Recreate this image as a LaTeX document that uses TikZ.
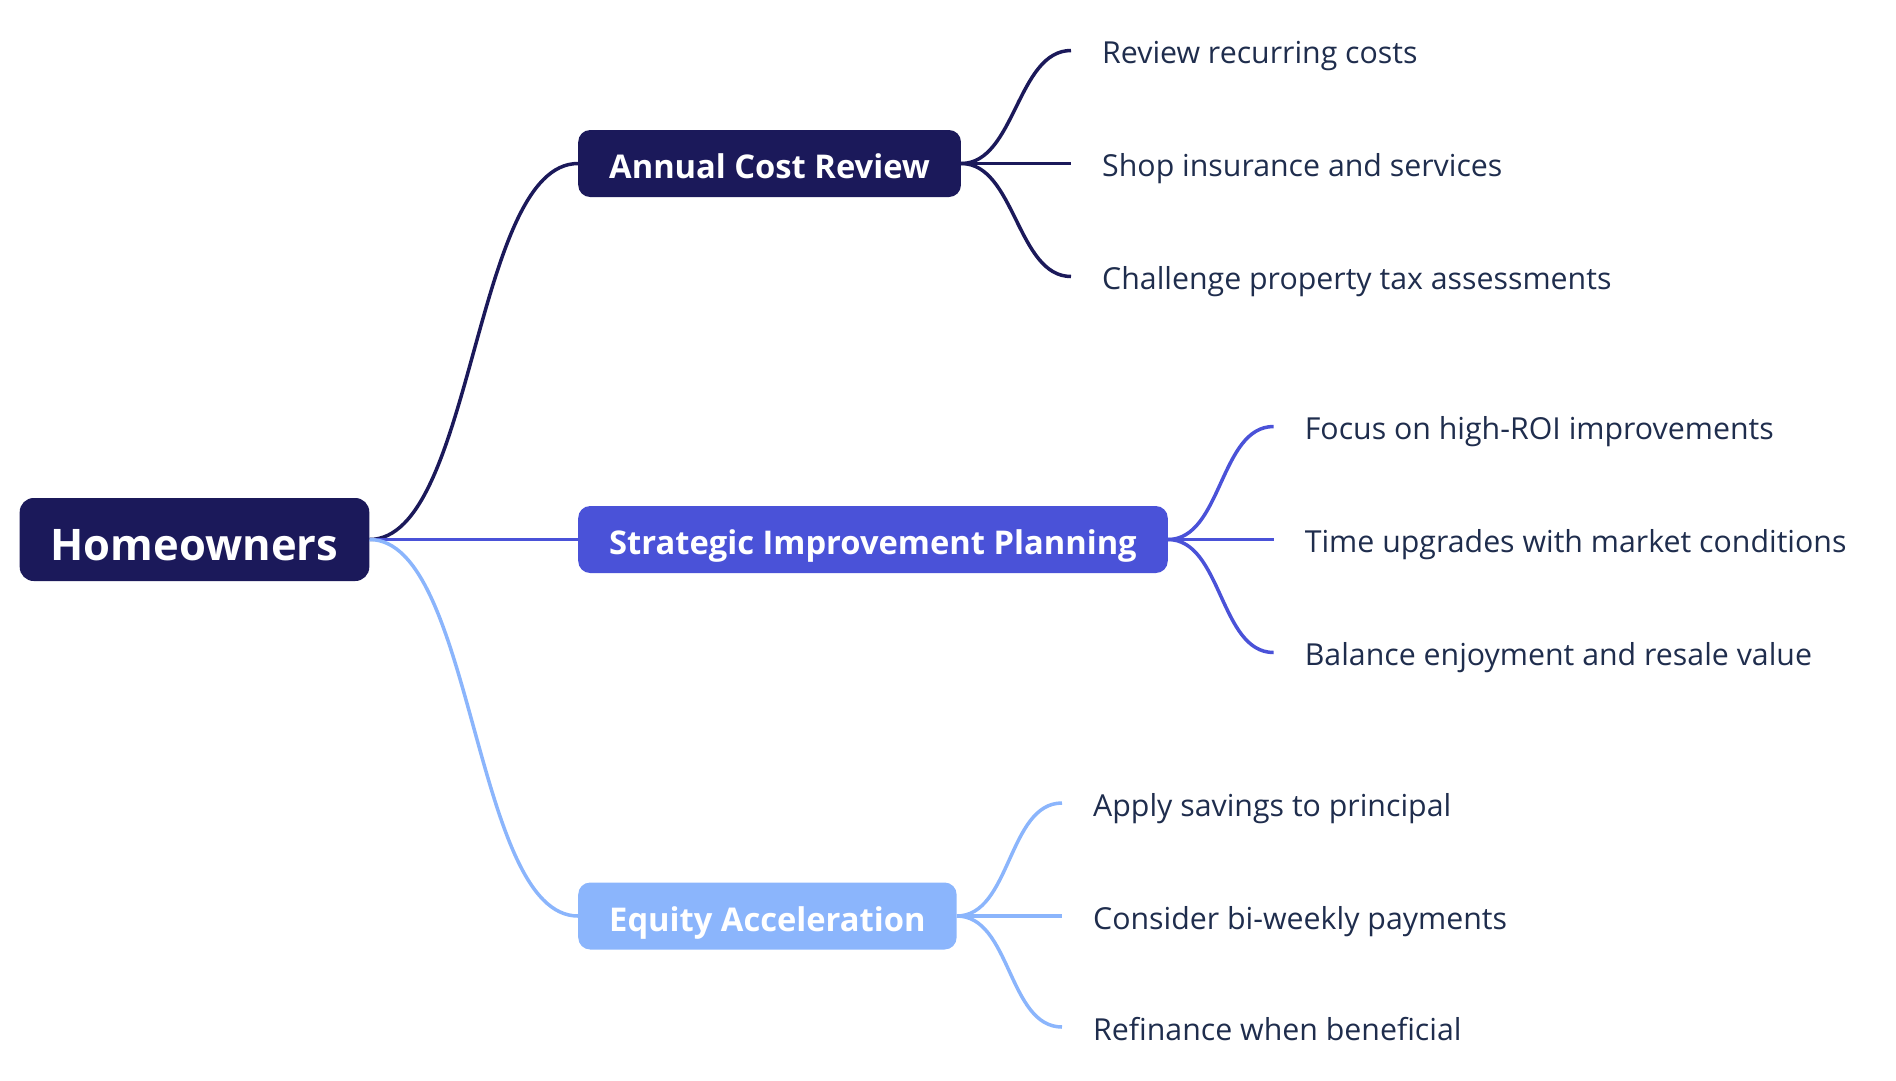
\documentclass[tikz,border=0pt]{standalone}
\usepackage{fontspec}
\setmainfont{Open Sans}
\usetikzlibrary{positioning}
\definecolor{navy}{RGB}{27,25,90}
\definecolor{indigo}{RGB}{74,82,216}
\definecolor{skyblue}{RGB}{139,181,252}
\definecolor{leaftext}{RGB}{31,45,77}

\begin{document}
\begin{tikzpicture}[x=1pt,y=-1pt,
    root/.style ={rounded corners=14pt, fill=navy, text=white, font=\fontsize{43.5}{50}\selectfont\bfseries, minimum height=83pt, inner xsep=31pt, text height=41pt, text depth=0pt},
    topic/.style ={rounded corners=12pt, text=white, font=\fontsize{32.7}{38}\selectfont\bfseries, minimum height=67pt, inner xsep=31pt, text height=30pt, text depth=0pt, anchor=west},
    leaf/.style ={anchor=west, text=leaftext, font=\fontsize{30.3}{36}\selectfont, inner xsep=31pt, inner ysep=0pt, text height=26pt, text depth=0pt},
    branch/.style ={line width=3.5pt}]
   \useasboundingbox (0,0) rectangle (1896,1080);
   \node[root] (home) at (194.5,539.5) {Homeowners};
   \node[topic, fill=navy] (cost) at (578,163.5) {Annual Cost Review};
   \node[topic, fill=indigo] (improve) at (578,539.5) {Strategic Improvement Planning};
   \node[topic, fill=skyblue] (equity) at (578,916) {Equity Acceleration};

   \node[leaf] (cost1) at (1071,50.5) {Review recurring costs};
   \node[leaf] (cost2) at (1071,163.5) {Shop insurance and services};
   \node[leaf] (cost3) at (1071,276.5) {Challenge property tax assessments};
   \node[leaf] (improve1) at (1273.6,426.5) {Focus on high-ROI improvements};
   \node[leaf] (improve2) at (1273.6,539.5) {Time upgrades with market conditions};
   \node[leaf] (improve3) at (1273.6,652.5) {Balance enjoyment and resale value};
   \node[leaf] (equity1) at (1062,803) {Apply savings to principal};
   \node[leaf] (equity2) at (1062,916) {Consider bi-weekly payments};
   \node[leaf] (equity3) at (1062,1027) {Refinance when beneficial};

   \draw[branch, navy] (home.east) .. controls +(104.5,0) and +(-104.5,0) .. (cost.west);
   \draw[branch, indigo] (home.east) to (improve.west);
   \draw[branch, skyblue] (home.east) .. controls +(104.5,0) and +(-104.5,0) .. (equity.west);

   \draw[branch, navy] (cost.east) .. controls +(54,0) and +(-54,0) .. (cost1.west);
   \draw[branch, navy] (cost.east) to (cost2.west);
   \draw[branch, navy] (cost.east) .. controls +(54,0) and +(-54,0) .. (cost3.west);
   \draw[branch, indigo] (improve.east) .. controls +(54,0) and +(-54,0) .. (improve1.west);
   \draw[branch, indigo] (improve.east) to (improve2.west);
   \draw[branch, indigo] (improve.east) .. controls +(54,0) and +(-54,0) .. (improve3.west);
   \draw[branch, skyblue] (equity.east) .. controls +(54,0) and +(-54,0) .. (equity1.west);
   \draw[branch, skyblue] (equity.east) to (equity2.west);
   \draw[branch, skyblue] (equity.east) .. controls +(54,0) and +(-54,0) .. (equity3.west);
 \end{tikzpicture}
\end{document}
